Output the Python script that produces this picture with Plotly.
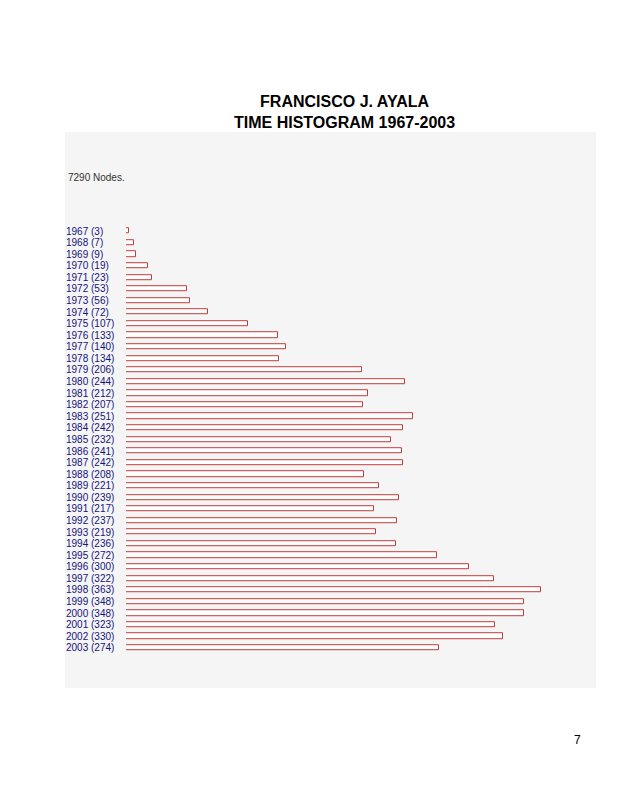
import plotly.graph_objects as go

# time histogram data
years = list(range(1967, 2004))
counts = [3, 7, 9, 19, 23, 53, 56, 72, 107, 133, 140, 134, 206, 244, 212, 207,
          251, 242, 232, 241, 242, 208, 221, 239, 217, 237, 219, 236, 272, 300,
          322, 363, 348, 348, 323, 330, 274]
total_nodes = 7290
labels = [f"{y} ({c})" for y, c in zip(years, counts)]

# page body has an 8px margin, so work in window pixels minus 8
OFF = 8
W, H = 619 - OFF, 799 - OFF
px_per_unit = 1.1433
x0_px = 126
x_max = 400
row_px = 11.58
top_row_px = 231


def fx(p):
    return (p - OFF) / W


def fy(p):
    return 1 - (p - OFF) / H


label_font = dict(family="Liberation Sans Narrow, Arial Narrow, Liberation Sans", size=10, color="#14147a")

fig = go.Figure()

fig.add_trace(go.Bar(
    x=counts,
    y=years,
    orientation="h",
    width=0.45,
    marker=dict(color="white", line=dict(color="#c23b3b", width=1)),
    hoverinfo="x+y",
))

# left-aligned year labels
for y, lab in zip(years, labels):
    fig.add_annotation(
        x=fx(64), xref="paper", xanchor="left",
        y=y, yref="y", yanchor="middle",
        text=lab, showarrow=False, font=label_font,
    )

fig.add_annotation(
    x=fx(66), xref="paper", xanchor="left",
    y=fy(177), yref="paper", yanchor="middle",
    text=f"{total_nodes} Nodes.", showarrow=False,
    font=dict(label_font, color="#333333"),
)

fig.add_annotation(
    x=fx(344), xref="paper", xanchor="center",
    y=fy(112), yref="paper", yanchor="middle",
    text="<b>FRANCISCO J. AYALA<br>TIME HISTOGRAM 1967-2003</b>", showarrow=False,
    font=dict(family="Liberation Sans, Arial", size=16, color="black"),
)

fig.add_annotation(
    x=fx(577), xref="paper", xanchor="center",
    y=fy(740), yref="paper", yanchor="middle",
    text="7", showarrow=False,
    font=dict(family="Liberation Sans, Arial", size=12, color="black"),
)

# gray panel
fig.add_shape(type="rect", xref="paper", yref="paper",
              x0=fx(65), x1=fx(596), y0=fy(688), y1=fy(132),
              fillcolor="#f5f5f5", line=dict(width=0), layer="below")

y_top_px = top_row_px - row_px / 2
y_bot_px = y_top_px + row_px * len(years)

fig.update_layout(
    width=W, height=H,
    margin=dict(l=0, r=0, t=0, b=0),
    paper_bgcolor="white",
    plot_bgcolor="rgba(0,0,0,0)",
    showlegend=False,
    bargap=0,
    xaxis=dict(range=[0, x_max], domain=[fx(x0_px), fx(x0_px + x_max * px_per_unit)],
               visible=False, fixedrange=True),
    yaxis=dict(range=[years[-1] + 0.5, years[0] - 0.5],
               domain=[fy(y_bot_px), fy(y_top_px)],
               visible=False, fixedrange=True),
)

fig.write_html("out.html")
